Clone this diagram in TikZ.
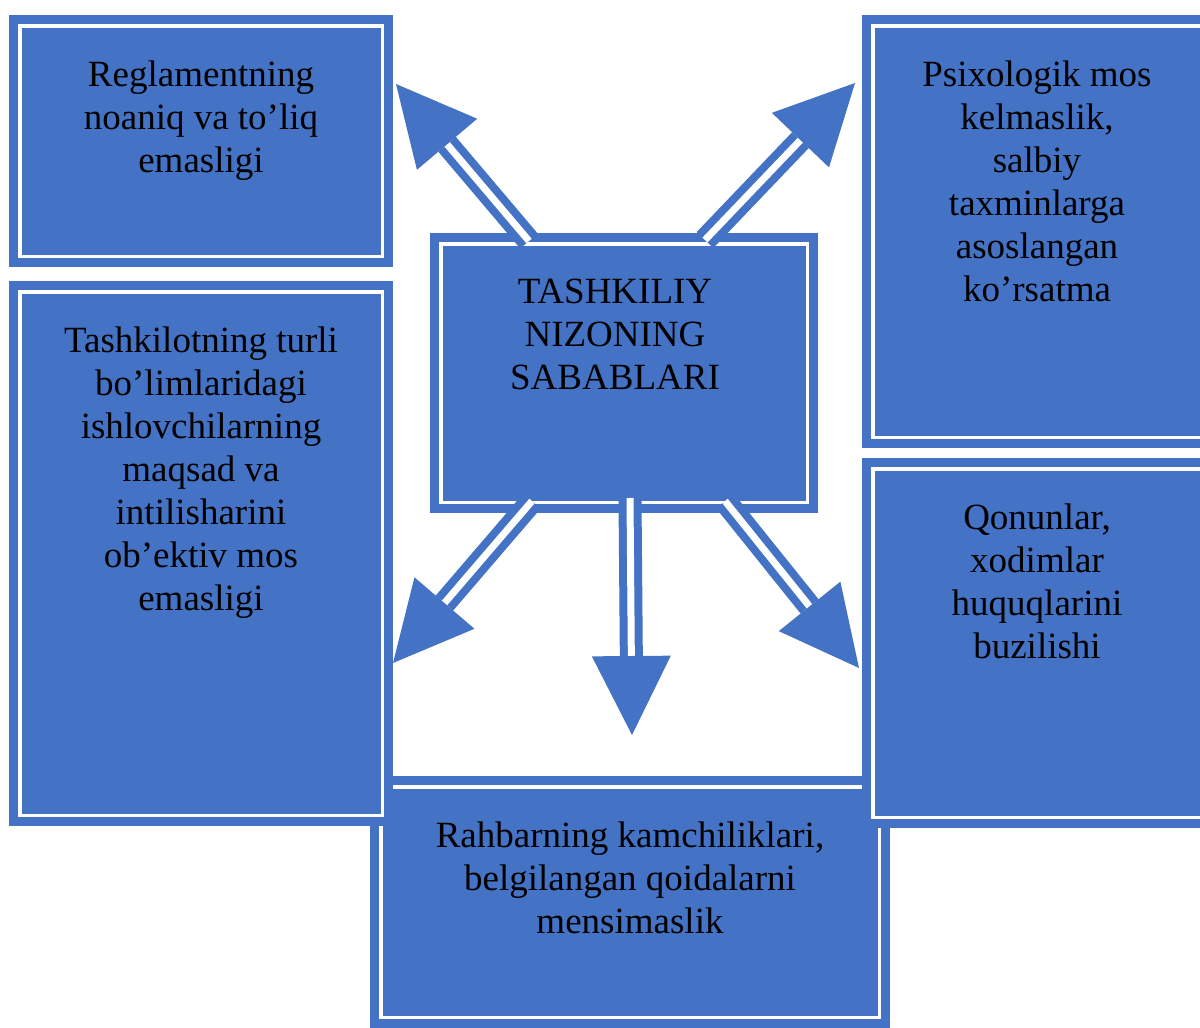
\documentclass[tikz,border=0pt]{standalone}
\usepackage{fontspec}
\setmainfont{Liberation Serif}
\usetikzlibrary{arrows.meta}
\definecolor{boxblue}{HTML}{4472C4}
\begin{document}
\begin{tikzpicture}[x=1pt,y=-1pt,
  cbox/.style={rectangle, inner sep=0pt, fill=boxblue, draw=boxblue,
    line width=9pt, double=white, double distance=3.5pt},
  % the base anchor of a multi-line node sits on its last line
  ctext/.style={anchor=base, align=center, inner sep=0pt,
    font=\fontsize{37}{43}\selectfont, text=black},
  causearrow/.style={draw=boxblue, line width=8pt, double=white,
    double distance=7pt, -{Triangle[length=79pt,width=79pt,line width=0pt]}}
]
\useasboundingbox (0,0) rectangle (1200,1028);

% boxes (lower ones first so the side boxes lie over them)
\node[cbox, minimum width=498.5pt, minimum height=230.5pt] (b5) at (630,902) {};
\node[cbox, minimum width=362.5pt, minimum height=523.5pt] (b2) at (201,553.5) {};
\node[cbox, minimum width=328.5pt, minimum height=348.5pt] (b4) at (1037,643) {};
\node[cbox, minimum width=362.5pt, minimum height=230.5pt] (b1) at (201,141) {};
\node[cbox, minimum width=328.5pt, minimum height=411.5pt] (b3) at (1037,231.5) {};
\node[cbox, minimum width=366.5pt, minimum height=258.5pt] (b0) at (624,373) {};

% texts
\node[ctext] (t0) at (615,389) {TASHKILIY\\NIZONING\\SABABLARI};
\node[ctext] (t1) at (201,172) {Reglamentning\\noaniq va to’liq\\emasligi};
\node[ctext] (t2) at (201,610) {Tashkilotning turli\\bo’limlaridagi\\ishlovchilarning\\maqsad va\\intilisharini\\ob’ektiv mos\\emasligi};
\node[ctext] (t3) at (1037,301) {Psixologik mos\\kelmaslik,\\salbiy\\taxminlarga\\asoslangan\\ko’rsatma};
\node[ctext] (t4) at (1037,658) {Qonunlar,\\xodimlar\\huquqlarini\\buzilishi};
\node[ctext] (t5) at (630,933) {Rahbarning kamchiliklari,\\belgilangan qoidalarni\\mensimaslik};

% arrow ends
\coordinate (s1) at (529,241);  \coordinate (e1) at (396,84);
\coordinate (s2) at (705,240);  \coordinate (e2) at (855,83);
\coordinate (s3) at (532,501);  \coordinate (e3) at (393,663);
\coordinate (s4) at (725,501);  \coordinate (e4) at (859,668);
\coordinate (s5) at (630,498);  \coordinate (e5) at (632,735);

\draw[causearrow] (s1) -- (e1);
\draw[causearrow] (s2) -- (e2);
\draw[causearrow] (s3) -- (e3);
\draw[causearrow] (s4) -- (e4);
\draw[causearrow] (s5) -- (e5);
\end{tikzpicture}
\end{document}
